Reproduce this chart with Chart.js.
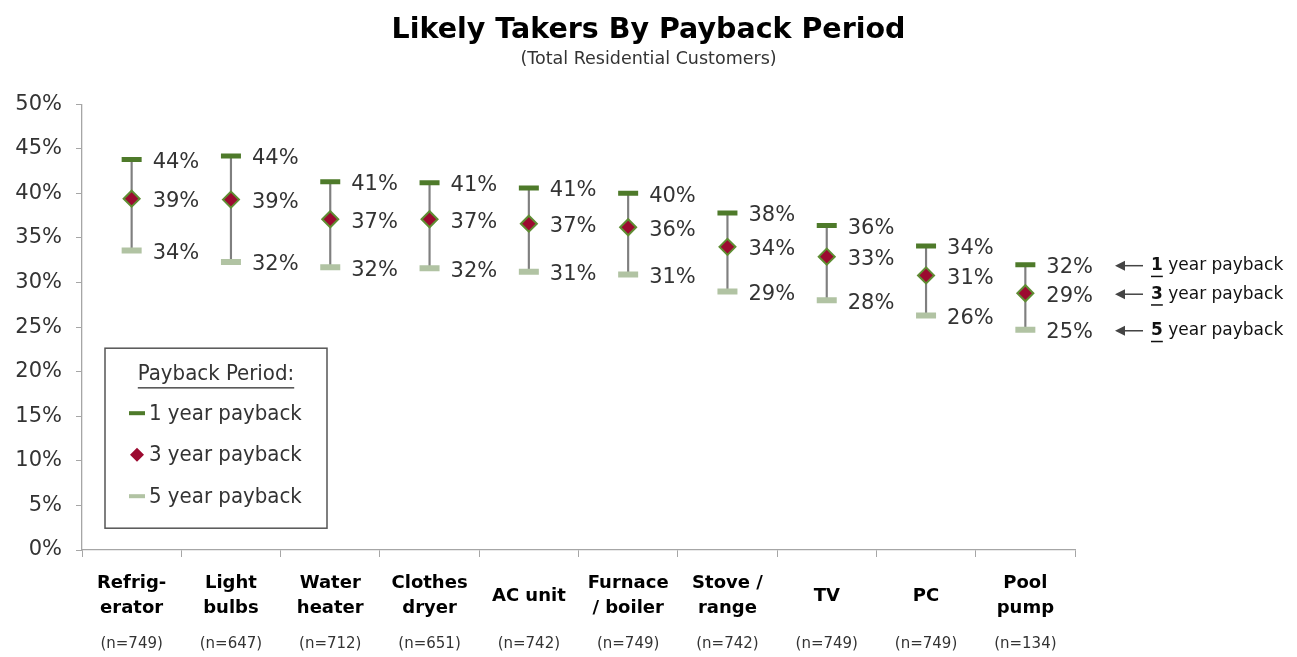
<!DOCTYPE html>
<html>
<head>
<meta charset="utf-8">
<script src="https://cdn.jsdelivr.net/npm/chart.js@4/dist/chart.umd.min.js"></script>
<style>
  html, body { margin: 0; padding: 0; background: #fff; }
  #wrap { width: 1297px; height: 657px; }
</style>
</head>
<body>
<div id="wrap"><canvas id="grafico" width="1297" height="657"></canvas></div>
<script>
// --- DADOS ---
const categorias = [
    ['Refrig-', 'erator'], ['Light', 'bulbs'], ['Water', 'heater'], ['Clothes', 'dryer'],
    ['AC unit'], ['Furnace', '/ boiler'], ['Stove /', 'range'], ['TV'], ['PC'], ['Pool', 'pump']
];
const amostras = ['(n=749)', '(n=647)', '(n=712)', '(n=651)', '(n=742)', '(n=749)', '(n=742)', '(n=749)', '(n=749)', '(n=134)'];
const umAno    = [43.8, 44.2, 41.3, 41.2, 40.6, 40.0, 37.8, 36.4, 34.1, 32.0];
const tresAnos = [39.4, 39.3, 37.1, 37.1, 36.6, 36.2, 34.0, 32.9, 30.8, 28.8];
const cincoAnos = [33.6, 32.3, 31.7, 31.6, 31.2, 30.9, 29.0, 28.0, 26.3, 24.7];
const ticksY = [0, 5, 10, 15, 20, 25, 30, 35, 40, 45, 50];

const FONTE = "'DejaVu Sans', sans-serif";
const FONTE_ESTREITA = "'DejaVu Sans Condensed', 'DejaVu Sans', sans-serif";
const VERDE = '#4e7a2a';
const VERMELHO = '#9c0a30';
const VERDE_CLARO = '#b1c3a3';
const TEXTO = '#333333';

// rótulos de valor ao lado de cada marcador
const rotulosValor = {
    id: 'rotulosValor',
    afterDatasetsDraw(chart) {
        const ctx = chart.ctx;
        ctx.save();
        ctx.font = '21px ' + FONTE;
        ctx.fillStyle = TEXTO;
        ctx.textBaseline = 'middle';
        ctx.textAlign = 'left';
        chart.data.datasets.forEach((ds, i) => {
            if (ds.type === 'bar') return;
            chart.getDatasetMeta(i).data.forEach((pt, j) => {
                ctx.fillText(Math.round(ds.data[j]) + '%', pt.x + 21, pt.y + 3);
            });
        });
        ctx.restore();
    }
};

// categorias e tamanhos de amostra no eixo x
const rotulosEixo = {
    id: 'rotulosEixo',
    afterDraw(chart) {
        const ctx = chart.ctx;
        const x = chart.scales.x;
        const base = chart.chartArea.bottom;
        ctx.save();
        ctx.textAlign = 'center';
        ctx.textBaseline = 'middle';
        categorias.forEach((linhas, i) => {
            const px = x.getPixelForValue(i);
            ctx.font = 'bold 18px ' + FONTE;
            ctx.fillStyle = '#000';
            const meio = base + 46;
            linhas.forEach((l, k) => {
                ctx.fillText(l, px, meio + (k - (linhas.length - 1) / 2) * 25);
            });
            ctx.font = '15px ' + FONTE;
            ctx.fillStyle = TEXTO;
            ctx.fillText(amostras[i], px, base + 94);
        });
        ctx.restore();
    }
};

// legenda em caixa dentro da área do gráfico
const legendaCaixa = {
    id: 'legendaCaixa',
    afterDraw(chart) {
        const ctx = chart.ctx;
        const a = chart.chartArea;
        const x0 = a.left + 23, y0 = a.top + 244, w = 222, h = 180;
        ctx.save();
        ctx.strokeStyle = '#555';
        ctx.lineWidth = 1.5;
        ctx.fillStyle = '#fff';
        ctx.fillRect(x0, y0, w, h);
        ctx.strokeRect(x0, y0, w, h);

        ctx.font = '22px ' + FONTE_ESTREITA;
        ctx.fillStyle = TEXTO;
        ctx.textAlign = 'center';
        ctx.textBaseline = 'middle';
        const titulo = 'Payback Period:';
        ctx.fillText(titulo, x0 + w / 2, y0 + 26);
        const tw = ctx.measureText(titulo).width;
        ctx.fillRect(x0 + w / 2 - tw / 2, y0 + 39, tw, 1.3);

        ctx.textAlign = 'left';
        const itens = chart.data.datasets.filter(d => d.type !== 'bar');
        itens.forEach((ds, i) => {
            const y = y0 + 65 + i * 41.5;
            const mx = x0 + 32;
            if (ds.pointStyle === 'line') {
                ctx.fillStyle = ds.borderColor;
                ctx.fillRect(mx - 8, y - 2, 16, 4);
            } else {
                ctx.fillStyle = ds.backgroundColor;
                ctx.beginPath();
                ctx.moveTo(mx, y - 7); ctx.lineTo(mx + 7, y); ctx.lineTo(mx, y + 7); ctx.lineTo(mx - 7, y);
                ctx.closePath();
                ctx.fill();
            }
            ctx.fillStyle = TEXTO;
            ctx.fillText(ds.label, mx + 12, y + 1);
        });
        ctx.restore();
    }
};

// setas à direita apontando para o último item
const setasDireita = {
    id: 'setasDireita',
    afterDraw(chart) {
        const ctx = chart.ctx;
        const y = chart.scales.y;
        const ult = umAno.length - 1;
        const linhas = [['1', umAno[ult]], ['3', tresAnos[ult]], ['5', cincoAnos[ult]]];
        ctx.save();
        ctx.textBaseline = 'middle';
        ctx.textAlign = 'left';
        linhas.forEach(([n, v]) => {
            const py = y.getPixelForValue(v) + 1;
            const xs = chart.chartArea.right + 40;
            ctx.strokeStyle = '#444';
            ctx.fillStyle = '#444';
            ctx.lineWidth = 1.5;
            ctx.beginPath();
            ctx.moveTo(xs + 28, py); ctx.lineTo(xs + 4, py);
            ctx.stroke();
            ctx.beginPath();
            ctx.moveTo(xs, py); ctx.lineTo(xs + 10, py - 5); ctx.lineTo(xs + 10, py + 5);
            ctx.closePath();
            ctx.fill();

            const tx = xs + 36;
            ctx.fillStyle = '#111';
            ctx.font = 'bold 17px ' + FONTE;
            ctx.fillText(n, tx, py);
            const nw = ctx.measureText(n).width;
            ctx.fillRect(tx, py + 10, nw, 1.5);
            ctx.font = '17px ' + FONTE;
            ctx.fillText(' year payback', tx + nw, py);
        });
        ctx.restore();
    }
};

const ctx = document.getElementById('grafico').getContext('2d');
const grafico = new Chart(ctx, {
    data: {
        labels: categorias.map(c => c.join(' ')),
        datasets: [
            {
                type: 'bar',
                label: 'faixa',
                data: umAno.map((v, i) => [cincoAnos[i], v]),
                backgroundColor: '#7f7f7f',
                barThickness: 1.5,
                order: 10
            },
            {
                type: 'line', label: '1 year payback', data: umAno,
                showLine: false, pointStyle: 'line', pointRadius: 10, pointBorderWidth: 5,
                borderColor: VERDE, backgroundColor: VERDE, order: 1
            },
            {
                type: 'line', label: '3 year payback', data: tresAnos,
                showLine: false, pointStyle: 'rectRot', pointRadius: 8, pointBorderWidth: 2,
                borderColor: '#5f8d33', backgroundColor: VERMELHO, order: 0
            },
            {
                type: 'line', label: '5 year payback', data: cincoAnos,
                showLine: false, pointStyle: 'line', pointRadius: 10, pointBorderWidth: 6,
                borderColor: VERDE_CLARO, backgroundColor: VERDE_CLARO, order: 2
            }
        ]
    },
    options: {
        responsive: false,
        animation: false,
        layout: { padding: 0 },
        plugins: {
            legend: { display: false },
            tooltip: { enabled: false },
            title: {
                display: true,
                text: 'Likely Takers By Payback Period',
                color: '#000',
                font: { family: FONTE, size: 28.5, weight: 'bold' },
                padding: { top: 13, bottom: 2 }
            },
            subtitle: {
                display: true,
                text: '(Total Residential Customers)',
                color: TEXTO,
                font: { family: FONTE, size: 17.5 },
                padding: { top: 0, bottom: 34 }
            }
        },
        scales: {
            x: {
                grid: { display: true, drawOnChartArea: false, offset: true, tickLength: 7, color: '#a6a6a6' },
                border: { color: '#a6a6a6', width: 1.3 },
                ticks: { display: false },
                afterFit: s => { s.height = 107; }
            },
            y: {
                min: 0, max: 50,
                afterBuildTicks: s => { s.ticks = ticksY.map(v => ({ value: v })); },
                grid: { display: true, drawOnChartArea: false, tickLength: 6, color: '#a6a6a6' },
                border: { color: '#a6a6a6', width: 1.3 },
                ticks: {
                    color: TEXTO, padding: 14,
                    font: { family: FONTE, size: 21 },
                    callback: v => v + '%'
                },
                afterFit: s => { s.width = 82; }
            },
            // espaço reservado à direita para as setas
            margemDireita: {
                position: 'right',
                display: true,
                grid: { display: false },
                border: { display: false },
                ticks: { display: false },
                afterFit: s => { s.width = 222; }
            }
        }
    },
    plugins: [rotulosValor, rotulosEixo, legendaCaixa, setasDireita]
});
</script>
</body>
</html>
